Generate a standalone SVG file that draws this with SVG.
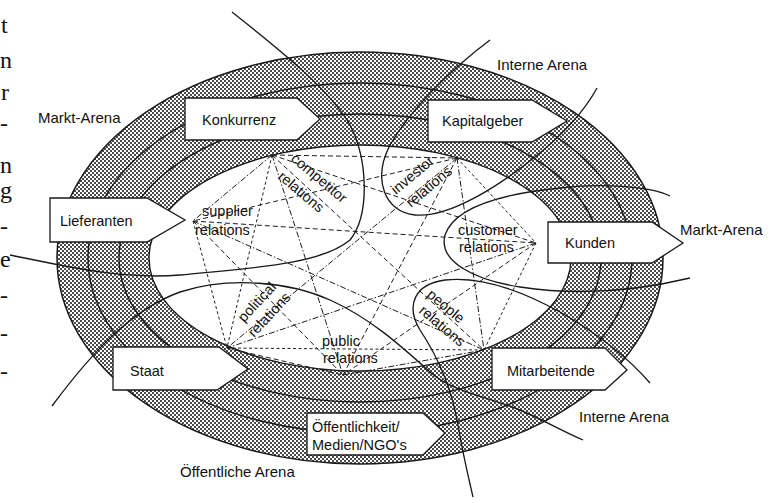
<svg xmlns="http://www.w3.org/2000/svg" width="775" height="503" viewBox="0 0 775 503">
<defs>
<pattern id="dots" width="4" height="4" patternUnits="userSpaceOnUse">
<rect width="4" height="4" fill="#ffffff"/>
<rect width="2" height="2" fill="#4a4a4a"/>
<rect x="2" y="2" width="2" height="2" fill="#4a4a4a"/>
</pattern>
</defs>
<style>
.sans { font-family: "Liberation Sans", Arial, sans-serif; fill: #111; }
.arena { font-size: 15px; }
.boxt { font-size: 14.5px; }
.rel { font-size: 14.5px; }
.edge { font-family: "Liberation Serif", "Times New Roman", serif; font-size: 24px; fill: #111; }
.ring { fill: none; stroke: #1a1a1a; stroke-width: 1.4; }
.box { fill: #ffffff; stroke: #1a1a1a; stroke-width: 1.3; }
.curve { fill: none; stroke: #1a1a1a; stroke-width: 1.35; }
.d1 { stroke: #1e1e1e; stroke-width: 1; stroke-dasharray: 5 3; }
.d2 { stroke: #1e1e1e; stroke-width: 1; stroke-dasharray: 6 2 1.5 2; }
.d3 { stroke: #1e1e1e; stroke-width: 1; stroke-dasharray: 3 2.5; }
</style>
<rect width="775" height="503" fill="#ffffff"/>

<g id="page-edge">
<text class="edge" x="1" y="33">t</text>
<text class="edge" x="0" y="68">n</text>
<text class="edge" x="1" y="100">r</text>
<text class="edge" x="0" y="131">-</text>
<text class="edge" x="0" y="173">n</text>
<text class="edge" x="0" y="198">g</text>
<text class="edge" x="0" y="234">-</text>
<text class="edge" x="0" y="267">e</text>
<text class="edge" x="0" y="303">-</text>
<text class="edge" x="0" y="341">-</text>
<text class="edge" x="0" y="379">-</text>
</g>

<g id="arenas">
<ellipse cx="360" cy="258" rx="303" ry="206" fill="url(#dots)" stroke="#1a1a1a" stroke-width="1.5"/>
<ellipse class="ring" cx="360" cy="258" rx="272" ry="175"/>
<ellipse class="ring" cx="360" cy="258" rx="241" ry="144"/>
<ellipse cx="360" cy="258" rx="211" ry="113" fill="#ffffff" stroke="#1a1a1a" stroke-width="1.4"/>
</g>

<g id="connectors" fill="none">
<line class="d1" x1="272" y1="155" x2="457" y2="158"/>
<line class="d2" x1="272" y1="155" x2="193" y2="221"/>
<line class="d1" x1="272" y1="155" x2="536" y2="243"/>
<line class="d3" x1="272" y1="155" x2="227" y2="348"/>
<line class="d2" x1="272" y1="155" x2="343" y2="375"/>
<line class="d1" x1="272" y1="155" x2="484" y2="350"/>
<line class="d1" x1="457" y1="158" x2="193" y2="221"/>
<line class="d3" x1="457" y1="158" x2="536" y2="243"/>
<line class="d2" x1="457" y1="158" x2="227" y2="348"/>
<line class="d1" x1="457" y1="158" x2="343" y2="375"/>
<line class="d2" x1="457" y1="158" x2="484" y2="350"/>
<line class="d1" x1="193" y1="221" x2="536" y2="243"/>
<line class="d3" x1="193" y1="221" x2="227" y2="348"/>
<line class="d1" x1="193" y1="221" x2="343" y2="375"/>
<line class="d2" x1="193" y1="221" x2="484" y2="350"/>
<line class="d2" x1="536" y1="243" x2="227" y2="348"/>
<line class="d1" x1="536" y1="243" x2="343" y2="375"/>
<line class="d3" x1="536" y1="243" x2="484" y2="350"/>
<line class="d1" x1="227" y1="348" x2="343" y2="375"/>
<line class="d3" x1="227" y1="348" x2="484" y2="350"/>
<line class="d2" x1="343" y1="375" x2="484" y2="350"/>
</g>

<g id="region-curves">
<path class="curve" d="M232,12 C280,50 330,90 350,125 C368,160 370,215 350,240 C320,265 250,268 180,275 C120,280 60,265 10,255"/>
<path class="curve" d="M490,40 C450,70 410,110 390,145 C372,180 385,212 415,215 C450,218 500,185 535,157 C565,133 585,110 597,88"/>
<path class="curve" d="M670,196 C650,186 600,183 560,188 C510,193 455,205 445,235 C438,262 475,280 520,287 C560,293 620,295 690,278"/>
<path class="curve" d="M52,406 C90,355 130,310 180,292 C230,276 290,282 330,300 C370,318 400,345 430,372 C450,390 480,395 515,408 C540,418 560,430 583,440"/>
<path class="curve" d="M650,383 C630,360 600,335 560,312 C520,290 480,276 445,280 C415,284 405,305 420,330 C440,360 452,390 458,425 C463,455 468,475 473,497"/>
</g>

<g id="relation-labels" class="sans rel">
<text transform="translate(290,160) rotate(40)">competitor</text>
<text transform="translate(277,178) rotate(40)">relations</text>
<text transform="translate(396,195) rotate(-40)">investor</text>
<text transform="translate(411,208) rotate(-40)">relations</text>
<text x="202" y="216">supplier</text>
<text x="195" y="235">relations</text>
<text x="458" y="235">customer</text>
<text x="459" y="252">relations</text>
<text transform="translate(244,323) rotate(-47)">political</text>
<text transform="translate(254,338) rotate(-47)">relations</text>
<text transform="translate(426,296) rotate(40)">people</text>
<text transform="translate(418,312) rotate(40)">relations</text>
<text x="322" y="346">public</text>
<text x="323" y="363">relations</text>
</g>

<g id="node-konkurrenz">
<polygon class="box" points="185,98 297,98 320,119 297,140 185,140"/>
<text class="sans boxt" x="202" y="125">Konkurrenz</text>
</g>
<g id="node-kapitalgeber">
<polygon class="box" points="428,100 532,100 567,121 532,142 428,142"/>
<text class="sans boxt" x="442" y="126">Kapitalgeber</text>
</g>
<g id="node-lieferanten">
<polygon class="box" points="50,198 147,198 185,220 147,242 50,242"/>
<text class="sans boxt" x="60" y="226">Lieferanten</text>
</g>
<g id="node-kunden">
<polygon class="box" points="548,222 652,222 683,243 652,263 548,263"/>
<text class="sans boxt" x="565" y="248">Kunden</text>
</g>
<g id="node-staat">
<polygon class="box" points="113,347 219,347 248,369 217,390 113,390"/>
<text class="sans boxt" x="130" y="376">Staat</text>
</g>
<g id="node-mitarbeitende">
<polygon class="box" points="492,348 605,348 627,370 605,390 492,390"/>
<text class="sans boxt" x="507" y="376">Mitarbeitende</text>
</g>
<g id="node-oeffentlichkeit">
<polygon class="box" points="307,413 423,413 445,433 423,455 307,455"/>
<text class="sans boxt" x="312" y="432">Öffentlichkeit/</text>
<text class="sans boxt" x="312" y="450">Medien/NGO's</text>
</g>

<g id="arena-labels" class="sans arena">
<text x="38" y="123">Markt-Arena</text>
<text x="497" y="70">Interne Arena</text>
<text x="680" y="235">Markt-Arena</text>
<text x="579" y="422">Interne Arena</text>
<text x="180" y="477">Öffentliche Arena</text>
</g>
</svg>
